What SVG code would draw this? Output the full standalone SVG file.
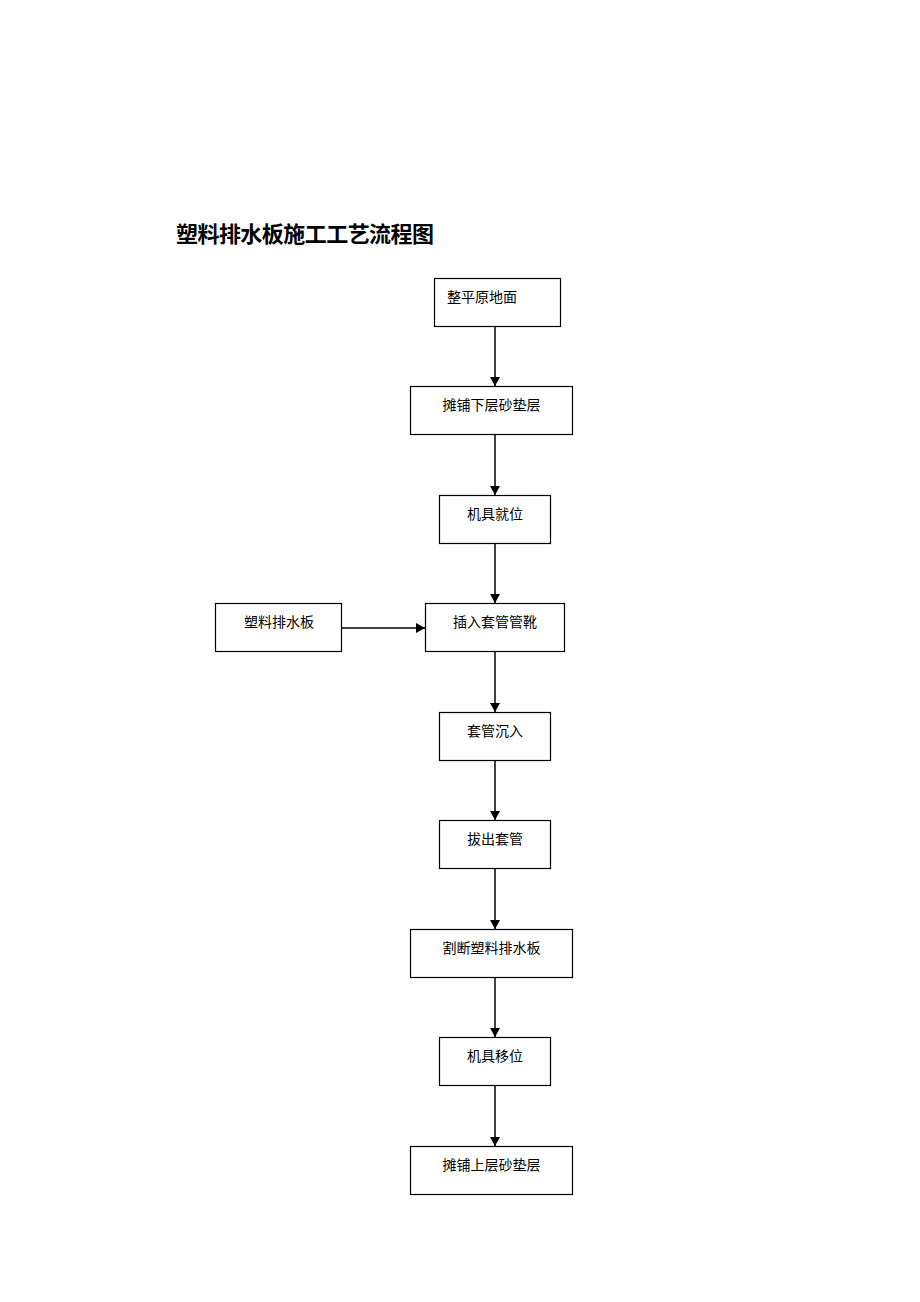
<svg xmlns="http://www.w3.org/2000/svg" width="920" height="1302" viewBox="0 0 920 1302">
<defs>
<marker id="ah" markerWidth="10" markerHeight="10" refX="9" refY="5" orient="auto" markerUnits="userSpaceOnUse">
<path d="M0,0 L9,5 L0,10 Z" fill="#000"/>
</marker>
<style>
.box{fill:#fff;stroke:#000;stroke-width:1.2}
.t{font-family:"Liberation Serif","Noto Sans CJK SC",serif;font-size:14px;fill:#000}
.c{text-anchor:middle}
.ln{stroke:#000;stroke-width:1.5;fill:none;marker-end:url(#ah)}
.title{font-family:"Liberation Serif","Noto Sans CJK SC",serif;font-size:22px;font-weight:bold;fill:#000}
</style>
</defs>
<rect width="920" height="1302" fill="#fff"/>
<text class="title" x="176" y="242" textLength="258">塑料排水板施工工艺流程图</text>
<g id="n1"><rect class="box" x="434.5" y="278.5" width="126" height="48"/><text class="t" x="447" y="302">整平原地面</text></g>
<g id="n2"><rect class="box" x="410.5" y="386.5" width="162" height="48"/><text class="t c" x="491.5" y="410">摊铺下层砂垫层</text></g>
<g id="n3"><rect class="box" x="439.5" y="495.5" width="111" height="48"/><text class="t c" x="495" y="519">机具就位</text></g>
<g id="n4"><rect class="box" x="425.5" y="603.5" width="139" height="48"/><text class="t c" x="495" y="627">插入套管管靴</text></g>
<g id="n5"><rect class="box" x="215.5" y="603.5" width="126" height="48"/><text class="t c" x="279" y="627">塑料排水板</text></g>
<g id="n6"><rect class="box" x="439.5" y="712.5" width="111" height="48"/><text class="t c" x="495" y="736">套管沉入</text></g>
<g id="n7"><rect class="box" x="439.5" y="820.5" width="111" height="48"/><text class="t c" x="495" y="844">拔出套管</text></g>
<g id="n8"><rect class="box" x="410.5" y="929.5" width="162" height="48"/><text class="t c" x="491.5" y="953">割断塑料排水板</text></g>
<g id="n9"><rect class="box" x="439.5" y="1037.5" width="111" height="48"/><text class="t c" x="495" y="1061">机具移位</text></g>
<g id="n10"><rect class="box" x="410.5" y="1146.5" width="162" height="48"/><text class="t c" x="491.5" y="1170">摊铺上层砂垫层</text></g>
<g id="connectors">
<line class="ln" x1="495" y1="327" x2="495" y2="386"/>
<line class="ln" x1="495" y1="435" x2="495" y2="495"/>
<line class="ln" x1="495" y1="544" x2="495" y2="603"/>
<line class="ln" x1="342" y1="628" x2="425" y2="628"/>
<line class="ln" x1="495" y1="652" x2="495" y2="712"/>
<line class="ln" x1="495" y1="761" x2="495" y2="820"/>
<line class="ln" x1="495" y1="869" x2="495" y2="929"/>
<line class="ln" x1="495" y1="978" x2="495" y2="1037"/>
<line class="ln" x1="495" y1="1086" x2="495" y2="1146"/>
</g>
</svg>
